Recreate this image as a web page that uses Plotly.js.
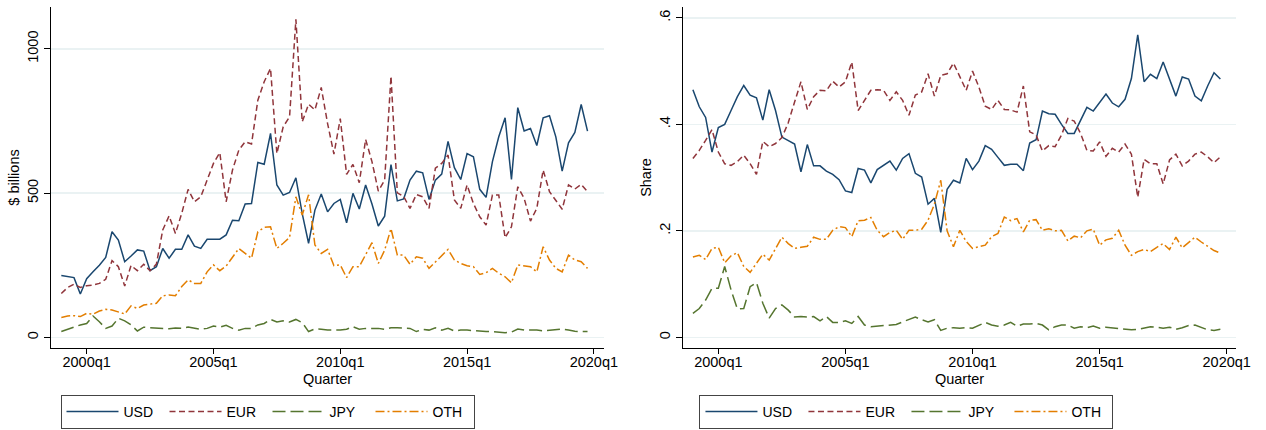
<!DOCTYPE html>
<html>
<head>
<meta charset="utf-8">
<script src="https://cdn.plot.ly/plotly-3.0.1.min.js"></script>
<style>
html,body{margin:0;padding:0;background:#fff;}
#chart{width:1266px;height:430px;}
</style>
</head>
<body>
<div id="chart"></div>
<script>
// Quarter labels 1999q1 .. 2019q4
const firstYear = 1999;
const nQuarters = 84;
const quarterLabels = [];
for (let k = 0; k < nQuarters; k++) {
  quarterLabels.push((firstYear + Math.floor(k / 4)) + 'q' + (k % 4 + 1));
}
const tickLabels = ['2000q1', '2005q1', '2010q1', '2015q1', '2020q1'];
const seriesNames = ['USD', 'EUR', 'JPY', 'OTH'];

// $ billions
const usdBillions = [214,210,207,150,203,227,250,277,366,337,262,282,303,299,231,245,308,274,305,305,355,316,308,340,340,340,355,406,404,462,464,606,600,707,528,493,502,553,429,326,441,497,435,464,478,397,499,445,528,462,386,420,599,473,480,545,576,570,478,545,566,679,588,547,637,626,513,485,609,695,761,547,796,715,724,665,761,768,695,576,674,710,807,715];
const eurBillions = [152,173,184,173,179,181,187,201,266,245,178,249,231,253,231,254,372,421,360,430,513,470,487,545,603,640,470,580,649,678,670,822,886,932,637,730,764,1102,747,808,788,866,741,635,758,565,599,536,686,609,507,545,905,501,488,447,495,487,447,586,603,632,476,447,528,464,418,389,493,493,345,383,522,482,403,447,580,505,476,444,528,514,530,505];
const jpyBillions = [20,28,37,43,48,74,54,31,39,66,57,43,22,35,33,32,31,30,32,31,36,31,28,31,39,35,42,31,25,31,31,43,48,62,53,57,53,62,51,20,29,28,25,25,25,28,37,28,31,31,31,28,33,33,32,31,20,28,25,33,25,31,22,25,25,23,20,20,20,18,16,18,29,25,25,25,22,25,28,29,25,21,20,20];
const othBillions = [69,74,75,72,83,80,91,97,95,89,81,109,100,112,115,118,144,147,144,176,199,187,187,227,251,231,247,279,308,291,274,366,381,383,308,326,346,487,424,494,320,291,305,248,251,207,245,245,288,328,256,302,377,285,285,253,279,274,239,262,285,305,268,256,248,245,218,224,239,222,210,189,251,248,245,227,314,268,239,227,285,268,262,239];

// Shares
const usdShare = [.465,.433,.413,.348,.394,.400,.426,.452,.473,.455,.450,.408,.465,.426,.376,.369,.363,.311,.362,.322,.322,.312,.306,.296,.275,.272,.317,.314,.290,.315,.323,.331,.314,.336,.345,.308,.301,.250,.261,.197,.278,.295,.290,.336,.315,.331,.360,.353,.338,.323,.325,.325,.313,.365,.371,.425,.420,.419,.400,.383,.383,.409,.432,.425,.442,.457,.440,.433,.447,.486,.568,.480,.494,.486,.517,.484,.453,.489,.485,.453,.444,.472,.497,.485];
const eurShare = [.336,.351,.370,.390,.348,.326,.323,.330,.342,.326,.306,.368,.358,.364,.375,.403,.442,.480,.428,.452,.464,.463,.481,.470,.480,.517,.426,.445,.464,.465,.464,.445,.461,.445,.417,.455,.461,.495,.453,.492,.495,.515,.489,.464,.500,.470,.434,.428,.445,.428,.427,.423,.472,.386,.380,.350,.360,.358,.380,.411,.406,.383,.351,.350,.367,.340,.355,.348,.363,.344,.263,.334,.326,.326,.288,.333,.344,.322,.331,.344,.348,.339,.328,.339];
const jpyShare = [.045,.054,.070,.092,.092,.133,.089,.053,.054,.095,.103,.064,.036,.054,.061,.051,.038,.039,.038,.039,.031,.039,.028,.028,.031,.026,.039,.023,.020,.021,.023,.024,.024,.029,.034,.038,.033,.029,.033,.013,.017,.018,.017,.018,.017,.023,.028,.023,.021,.023,.028,.021,.025,.025,.026,.023,.014,.020,.023,.023,.017,.020,.018,.021,.017,.019,.018,.017,.015,.014,.015,.018,.020,.019,.017,.019,.015,.018,.022,.023,.019,.014,.013,.015];
const othShare = [.151,.154,.146,.167,.169,.140,.153,.159,.133,.122,.139,.156,.145,.167,.188,.176,.167,.169,.171,.188,.184,.184,.201,.208,.206,.189,.219,.220,.225,.201,.189,.197,.201,.184,.201,.201,.203,.220,.250,.295,.200,.170,.201,.180,.167,.170,.173,.189,.195,.226,.219,.223,.198,.220,.221,.201,.204,.200,.201,.181,.190,.187,.200,.203,.173,.183,.186,.201,.173,.154,.161,.165,.161,.169,.176,.165,.188,.168,.178,.188,.179,.171,.163,.158];

// quarter label -> numeric position (year + (q-1)/4)
function qpos(lbl) { const p = lbl.split('q'); return +p[0] + (+p[1] - 1) / 4; }
const xq = quarterLabels.map(qpos);
const tickPos = tickLabels.map(qpos);

const styles = [
  {color: '#1a476f', dash: 'solid'},
  {color: '#90353b', dash: '6px,3.5px'},
  {color: '#55752f', dash: '13px,5px'},
  {color: '#e37e00', dash: '9px,3px,2px,3px'}
];

const leftData = [usdBillions, eurBillions, jpyBillions, othBillions];
const rightData = [usdShare, eurShare, jpyShare, othShare];

const traces = [];
seriesNames.forEach((nm, k) => {
  traces.push({x: xq, y: leftData[k], name: nm, type: 'scatter', mode: 'lines',
    line: {color: styles[k].color, dash: styles[k].dash, width: 1.5},
    xaxis: 'x', yaxis: 'y', legend: 'legend'});
});
seriesNames.forEach((nm, k) => {
  traces.push({x: xq, y: rightData[k], name: nm, type: 'scatter', mode: 'lines',
    line: {color: styles[k].color, dash: styles[k].dash, width: 1.5},
    xaxis: 'x2', yaxis: 'y2', legend: 'legend2'});
});

const fontFam = 'Liberation Sans, Arial, sans-serif';
const tickFont = {family: fontFam, size: 14.5, color: '#000'};
const titleFont = {family: fontFam, size: 14.5, color: '#000'};

function xax(domain, range) {
  return {domain: domain, range: range, tickvals: tickPos, ticktext: tickLabels,
    showline: true, linecolor: '#000', linewidth: 1, ticks: 'outside', ticklen: 5,
    tickcolor: '#000', showgrid: false, zeroline: false, tickfont: tickFont,
    automargin: false, ticklabelstandoff: -4,
    title: {text: 'Quarter', font: titleFont, standoff: 4}, fixedrange: true};
}
function yax(domain, range, tv, tt, title, anchor) {
  return {domain: domain, range: range, tickvals: tv, ticktext: tt, tickangle: -90,
    showline: true, linecolor: '#000', linewidth: 1, ticks: 'outside', ticklen: 6,
    tickcolor: '#000', showgrid: true, gridcolor: '#eaf2f3', gridwidth: 1.5,
    zeroline: false, tickfont: tickFont, anchor: anchor, automargin: false,
    title: {text: title, font: titleFont, standoff: 2}, fixedrange: true};
}

const yDom = [0.1907, 0.9837];
const legendBase = {orientation: 'h', xanchor: 'center', yanchor: 'bottom', y: 0.0023,
  bordercolor: '#444', borderwidth: 1, bgcolor: '#fff', entrywidth: 36,
  itemwidth: 52, font: {family: fontFam, size: 14, color: '#000'}, tracegroupgap: 0};

const layout = {
  width: 1266, height: 430,
  margin: {l: 0, r: 0, t: 0, b: 0, autoexpand: false},
  paper_bgcolor: '#fff', plot_bgcolor: '#fff',
  showlegend: true,
  xaxis: Object.assign(xax([0.0403, 0.4771], [1998.594, 2020.40]), {anchor: 'y'}),
  yaxis: yax(yDom, [-37, 1145], [0, 500, 1000], ['0', '500', '1000'], '$ billions', 'x'),
  xaxis2: Object.assign(xax([0.5395, 0.9763], [1998.61, 2020.365]), {anchor: 'y2'}),
  yaxis2: yax(yDom, [-0.0201, 0.6204], [0, 0.2, 0.4, 0.6], ['0', '.2', '.4', '.6'], 'Share', 'x2'),
  legend: Object.assign({}, legendBase, {x: 0.2113}),
  legend2: Object.assign({}, legendBase, {x: 0.716})
};

Plotly.newPlot('chart', traces, layout, {displayModeBar: false, staticPlot: true});
</script>
</body>
</html>
